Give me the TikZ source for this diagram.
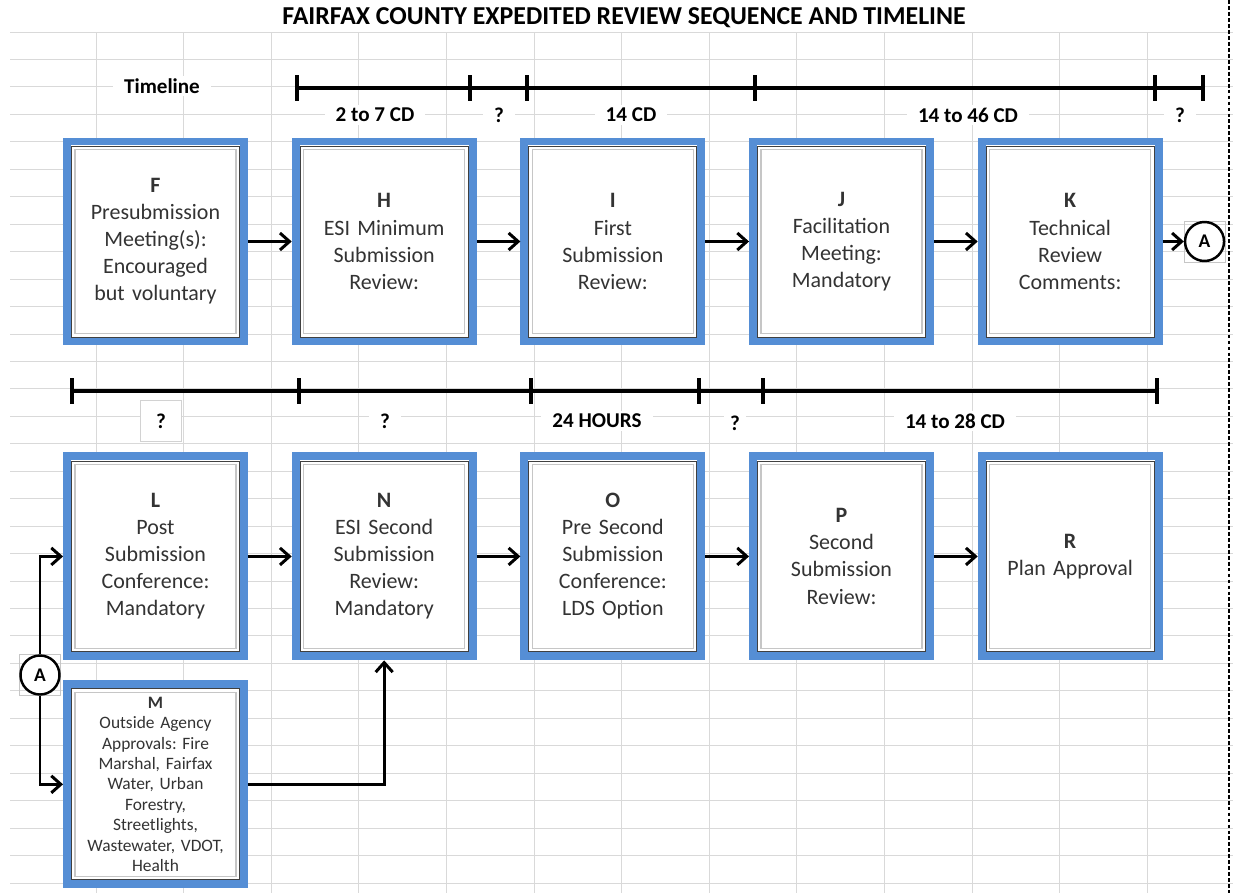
\documentclass[tikz,border=0pt]{standalone}
\usepackage{fontspec}
\setmainfont{Carlito}
\frenchspacing
\usetikzlibrary{positioning, arrows.meta}
\definecolor{boxblue}{RGB}{85,142,213}
\definecolor{cellgray}{RGB}{217,217,217}
\tikzstyle{stage}=[rectangle, draw=boxblue, line width=4.5pt, fill=white, minimum width=35.4mm, minimum height=40mm, text width=31mm, align=center, text=black!80, font=\fontsize{12.5}{15.4}\selectfont]
\tikzstyle{agency}=[stage, font=\fontsize{9.9}{11.6}\selectfont]
\tikzstyle{arrow}=[draw, line width=1.7pt, -{Straight Barb[length=1.9mm, width=3.4mm]}]
\tikzstyle{span}=[fill=white, inner xsep=2.2mm, inner ysep=1.5pt, font=\bfseries\fontsize{12}{14}\selectfont]
\tikzstyle{link}=[circle, draw, fill=white, line width=1.4pt, minimum size=7.8mm, inner sep=0pt, font=\bfseries\fontsize{11}{13}\selectfont]
\tikzstyle{handles}=[rectangle, draw=gray!45, line width=0.5pt, minimum size=8.2mm]
\tikzstyle{cell}=[draw=cellgray, line width=0.5pt]
\tikzstyle{bar}=[line width=2.8pt]

\begin{document}
\begin{tikzpicture}[x=0.2mm, y=-0.2mm, node distance=8.75mm]
		\useasboundingbox (0,0) rectangle (1233,893);
		
		% spreadsheet cells
		\foreach \r in {0,...,31}
			\draw[cell] (10,{32+27.45*\r}) -- (1233,{32+27.45*\r});
		\foreach \c in {0,...,12}
			\draw[cell] ({96+87.6*\c},32) -- ({96+87.6*\c},893);
		\draw[line width=0.6pt, dash pattern=on 2.2pt off 1.2pt] (1229,0) -- (1229,893);
		
		\node (title) at (624,18) {\bfseries\fontsize{14.7}{17}\selectfont FAIRFAX COUNTY EXPEDITED REVIEW SEQUENCE AND TIMELINE};
		
		% timelines
		\draw[bar] (297,88) -- (1203,88);
		\foreach \x in {297,470,527,755,1155,1203}
			\draw[bar] (\x,75) -- (\x,101);
		\draw[bar] (72,391) -- (1157,391);
		\foreach \x in {72,299,531,699,763,1157}
			\draw[bar] (\x,378) -- (\x,404);
		
		\node (tl) [span] at (162,86) {Timeline};
		\node (d1) [span] at (375,115) {2 to 7 CD};
		\node (d2) [span] at (499,115) {?};
		\node (d3) [span] at (631,115) {14 CD};
		\node (d4) [span] at (968,115) {14 to 46 CD};
		\node (d5) [span] at (1180,115) {?};
		\node (e1) [span, draw=gray!35, line width=0.5pt, minimum size=8.2mm, inner sep=0pt] at (161,421) {?};
		\node (e2) [span] at (385,421) {?};
		\node (e3) [span] at (597,421) {24 HOURS};
		\node (e4) [span, inner xsep=1.2mm] at (735,423) {?};
		\node (e5) [span] at (955,421) {14 to 28 CD};
		
		% stages
		\node (F) [stage] at (155.5,241.5) {\textbf{F}\\Presubmission\\Meeting(s):\\Encouraged\\but voluntary};
		\node (H) [stage, right=of F] {\textbf{H}\\ESI Minimum\\Submission\\Review:};
		\node (I) [stage, right=of H] {\textbf{I}\\First\\Submission\\Review:};
		\node (J) [stage, right=of I] {\textbf{J}\\Facilitation\\Meeting:\\Mandatory};
		\node (K) [stage, right=of J] {\textbf{K}\\Technical\\Review\\Comments:};
		\node (L) [stage, below=21.4mm of F] {\textbf{L}\\Post\\Submission\\Conference:\\Mandatory};
		\node (N) [stage, right=of L] {\textbf{N}\\ESI Second\\Submission\\Review:\\Mandatory};
		\node (O) [stage, right=of N] {\textbf{O}\\Pre Second\\Submission\\Conference:\\LDS Option};
		\node (P) [stage, right=of O] {\textbf{P}\\Second\\Submission\\Review:};
		\node (R) [stage, right=of P] {\textbf{R}\\Plan Approval};
		\node (M) [agency, below=4mm of L] {\textbf{M}\\Outside Agency\\Approvals: Fire\\Marshal, Fairfax\\Water, Urban\\Forestry,\\Streetlights,\\Wastewater, VDOT,\\Health};
		
		\foreach \b in {F,H,I,J,K,L,N,O,P,R,M} {
			\draw[black!75, line width=0.5pt] ([shift={(8.5,8.5)}]\b.north west) rectangle ([shift={(-8.5,-8.5)}]\b.south east);
			\draw[gray!45, line width=0.8pt] ([shift={(12,12)}]\b.north west) rectangle ([shift={(-12,-12)}]\b.south east);
		}
		
		% off-page connector
		\node (A1box) [handles, right=4.2mm of K] {};
		\node (A1) [link] at (A1box) {A};
		\node (A2box) [handles] at (40,675) {};
		\node (A2) [link] at (A2box) {A};
		
		\draw[arrow] (F) -- (H);
		\draw[arrow] (H) -- (I);
		\draw[arrow] (I) -- (J);
		\draw[arrow] (J) -- (K);
		\draw[arrow] (K) -- (A1);
		\draw[arrow] (A2) |- (L);
		\draw[arrow] (A2) |- (M);
		\draw[arrow] (L) -- (N);
		\draw[arrow] (N) -- (O);
		\draw[arrow] (O) -- (P);
		\draw[arrow] (P) -- (R);
		\draw[arrow] (M) -| (N);
		
\end{tikzpicture}
\end{document}
